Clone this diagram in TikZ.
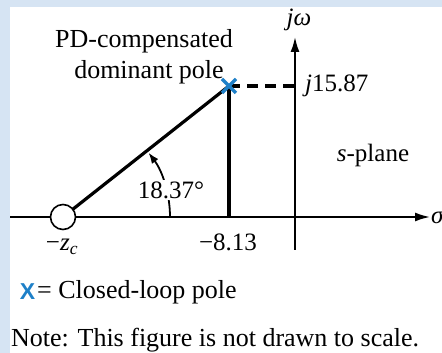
\documentclass[tikz,border=0pt]{standalone}
\usepackage{fontspec}
\setmainfont{Liberation Serif}
\setsansfont{Liberation Sans}
\usetikzlibrary{arrows.meta,calc}
\definecolor{bgblue}{RGB}{214,228,243}
\definecolor{xblue}{RGB}{30,128,200}
\begin{document}
\begin{tikzpicture}[x=1pt,y=1pt,
  lbl/.style={font=\fontsize{25}{28}\selectfont, inner sep=0pt},
  big/.style={font=\fontsize{26}{31}\selectfont, inner sep=0pt},
  axis/.style={line width=1.8pt, -{Latex[length=15pt,width=9pt]}},
  thick line/.style={line width=3.2pt},
  xmark/.style={draw=xblue, line width=3.2pt}]
\useasboundingbox (0,0) rectangle (442,353);
\fill[bgblue] (0,0) rectangle (442,353);
\fill[white] (10,0) rectangle (442,346);
% coordinates
\coordinate (O) at (63,136);
\coordinate (P) at (229,267);
\coordinate (F) at (229,136);
\coordinate (D) at (295,267);
\coordinate (xl) at (10,136);
\coordinate (xr) at (430,136);
\coordinate (yb) at (295,103);
\coordinate (yt) at (295,316);
% axes
\draw[axis] (xl) -- (xr);
\draw[axis] (yb) -- (yt);
\node[lbl, anchor=west] (sig) at (431,136) {\textit{σ}};
\node[lbl] (jw) at (299,333) {\textit{jω}};
% lines
\draw[thick line] (P) -- (F);
\draw[thick line, dash pattern=on 11pt off 7pt] (P) -- (D);
\draw[thick line] (O) -- (P);
\node[circle, draw, fill=white, line width=1.6pt, minimum size=25pt, inner sep=0pt] (Z) at (O) {};
% angle arc
\draw[line width=1.8pt, -{Latex[length=11pt,width=8pt]}] ($(O)+(107,0)$) arc[start angle=0, end angle=37, radius=107];
\node[lbl, fill=white, inner sep=2pt] (ang) at (171,163) {18.37°};
% pole marker
\draw[xmark] ($(P)+(-7,-7)$) -- ($(P)+(7,7)$) ($(P)+(-7,7)$) -- ($(P)+(7,-7)$);
% labels
\node[lbl, anchor=west] (jv) at (305,267) {\textit{j}15.87};
\node[lbl] (sp) at (373,198) {\textit{s}-plane};
\node[big, align=center] (pd) at (144,296) {PD-compensated\\\hspace*{10pt}dominant pole};
\node[lbl] (m) at (228,111) {−8.13};
\node[lbl] (zc) at (62,106) {−\textit{z}\textsubscript{\textit{c}}};
% legend
\node[inner sep=0pt, text=xblue, font=\fontsize{23}{26}\selectfont\sffamily\bfseries] (lx) at (27.5,61) {X};
\node[big, anchor=west] (leg) at (37,61) {= Closed-loop pole};
\node[big, anchor=west] (note) at (11,13) {Note: This figure is not drawn to scale.};
\end{tikzpicture}
\end{document}
